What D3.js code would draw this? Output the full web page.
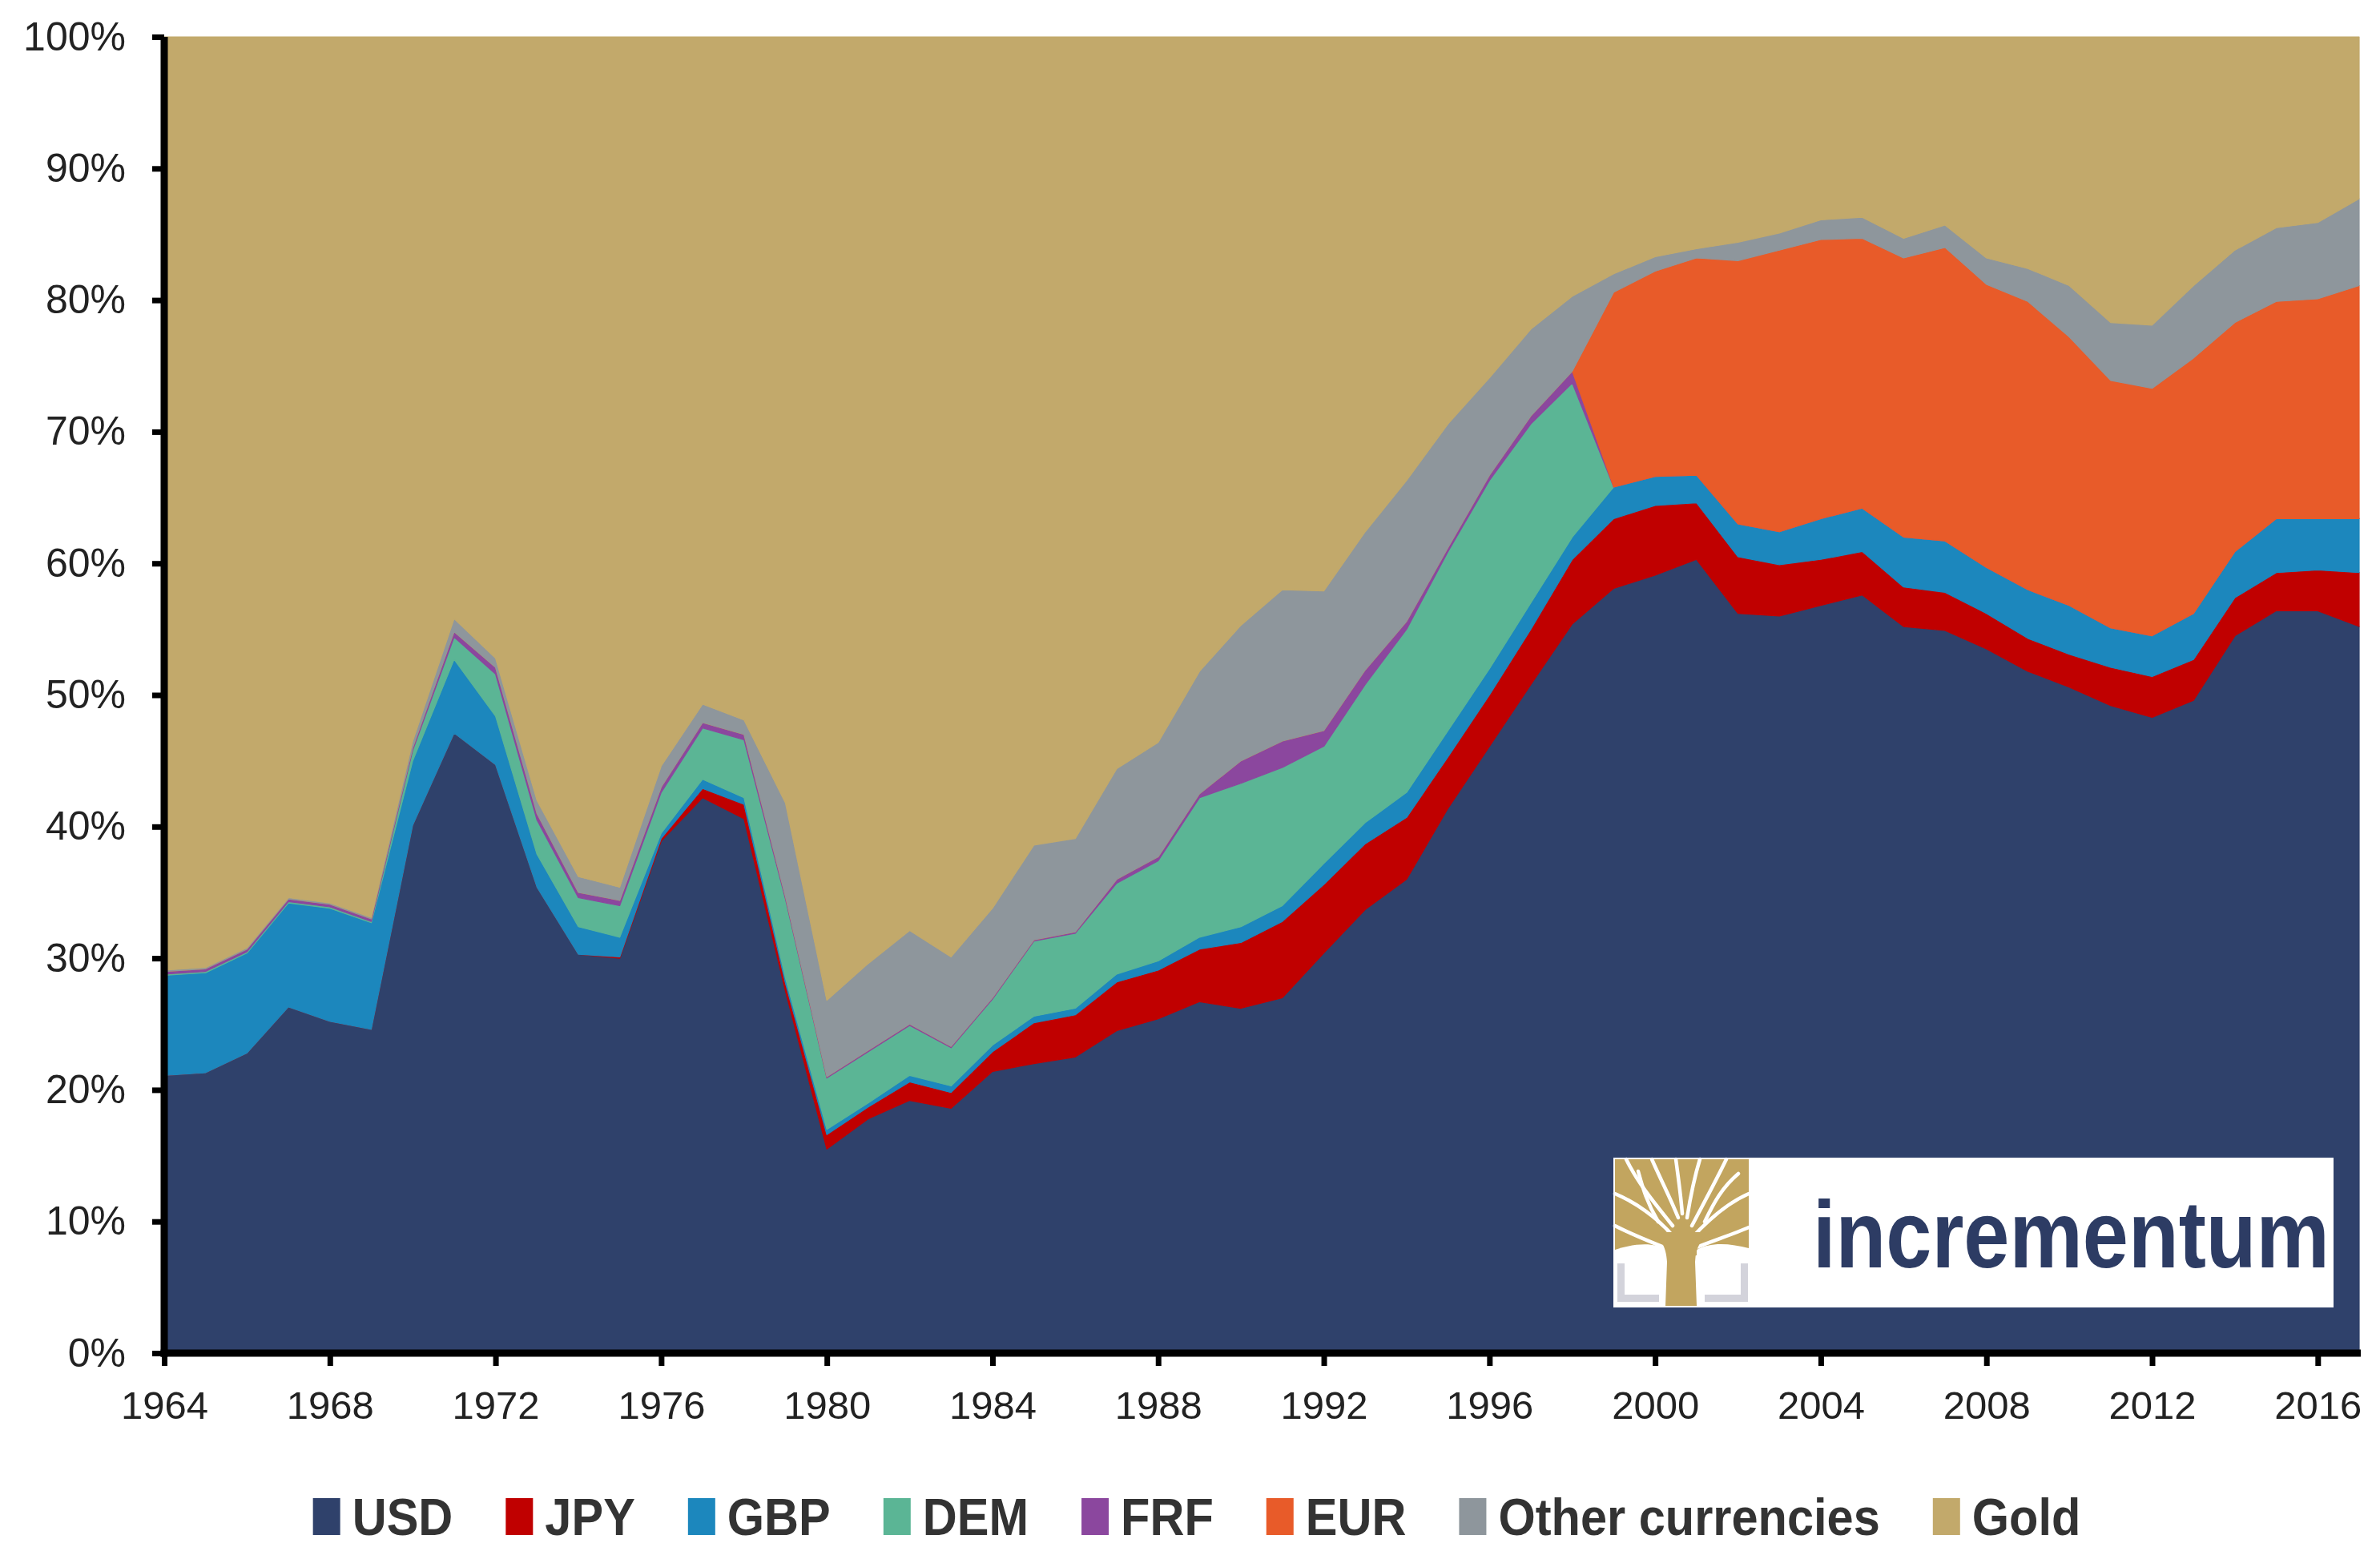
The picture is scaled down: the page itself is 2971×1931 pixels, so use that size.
<!DOCTYPE html>
<html>
<head>
<meta charset="utf-8">
<script src="https://cdn.jsdelivr.net/npm/d3@7/dist/d3.min.js"></script>
<style>
  html, body { margin: 0; padding: 0; background: #ffffff; }
  svg { display: block; }
</style>
</head>
<body>
<svg id="chart" width="2971" height="1931"></svg>
<script>
// ---------------- DATA (share of total reserves, %) ----------------
const years = [1964,1965,1966,1967,1968,1969,1970,1971,1972,1973,
               1974,1975,1976,1977,1978,1979,1980,1981,1982,1983,
               1984,1985,1986,1987,1988,1989,1990,1991,1992,1993,
               1994,1995,1996,1997,1998,1999,2000,2001,2002,2003,
               2004,2005,2006,2007,2008,2009,2010,2011,2012,2013,
               2014,2015,2016,2017];

const usd = [21.1,21.3,22.8,26.3,25.2,24.6,40.1,47.1,44.7,35.4,
             30.3,30.0,38.9,42.2,40.6,27.5,15.5,17.8,19.2,18.6,
             21.4,22.0,22.5,24.5,25.4,26.7,26.2,27.0,30.4,33.7,
             36.0,41.4,46.1,50.8,55.4,58.1,59.1,60.3,56.2,56.0,
             56.8,57.6,55.2,54.9,53.5,51.8,50.6,49.2,48.3,49.6,
             54.5,56.4,56.4,55.2];

const jpy = [0,0,0,0,0,0,0,0,0,0,
             0,0.1,0.2,0.7,1.1,0.6,1.1,0.9,1.4,1.2,
             1.5,3.1,3.2,3.7,3.7,4.0,5.0,5.8,5.2,5.0,
             4.7,3.9,3.9,4.2,4.9,5.3,5.3,4.3,4.3,3.9,
             3.5,3.3,3.0,2.9,2.7,2.5,2.5,2.9,3.1,3.1,
             2.9,2.9,3.1,4.1];

const gbp = [7.6,7.6,7.6,7.9,8.6,8.1,4.9,5.6,3.7,2.5,
             2.1,1.5,0.4,0.7,0.5,0.4,0.4,0.3,0.5,0.5,
             0.5,0.5,0.5,0.6,0.7,0.9,1.2,1.2,1.6,1.6,
             1.9,2.0,2.0,2.0,1.7,2.4,2.2,2.1,2.5,2.5,
             3.1,3.3,3.8,3.9,3.5,3.7,3.7,3.0,3.1,3.5,
             3.5,4.1,3.9,4.1];

const dem = [0.1,0.1,0.1,0.1,0.1,0.1,0.8,1.7,3.2,2.6,
             2.2,2.4,3.1,3.9,4.4,6.0,3.9,3.9,3.8,2.9,
             3.5,5.7,5.7,6.9,7.6,10.6,10.9,10.5,8.9,10.5,
             12.4,13.6,14.3,13.6,11.7,0,0,0,0,0,
             0,0,0,0,0,0,0,0,0,0,
             0,0,0,0];

const frf = [0.2,0.2,0.2,0.2,0.2,0.2,0.2,0.4,0.5,0.5,
             0.4,0.4,0.4,0.4,0.4,0.2,0.1,0.1,0.1,0.1,
             0.1,0.1,0.1,0.3,0.3,0.3,1.7,2.0,1.2,1.1,
             0.6,0.3,0.4,0.6,0.9,0,0,0,0,0,
             0,0,0,0,0,0,0,0,0,0,
             0,0,0,0];

const eur = [0,0,0,0,0,0,0,0,0,0,
             0,0,0,0,0,0,0,0,0,0,
             0,0,0,0,0,0,0,0,0,0,
             0,0,0,0,0,14.8,15.6,16.5,20.0,21.4,
             21.2,20.5,21.2,22.3,21.5,21.9,20.4,18.8,18.8,19.4,
             17.4,16.5,16.7,17.7];

const other = [0.1,0.1,0.1,0.1,0.1,0.1,0.5,1.0,0.7,1.0,
               1.2,1.0,1.6,1.4,1.1,7.1,5.8,6.6,7.1,6.8,
               6.8,7.2,7.1,8.4,8.7,9.3,10.3,11.5,10.6,10.5,
               10.7,9.4,7.4,6.6,5.7,1.4,1.1,0.7,1.4,1.3,
               1.5,1.6,1.5,1.7,2.0,2.5,3.9,4.4,4.8,5.5,
               5.5,5.6,5.8,6.6];

const gold = [70.9,70.7,69.2,65.4,65.8,66.9,53.5,44.2,47.2,58.0,
              63.8,64.6,55.4,50.7,51.9,58.2,73.2,70.4,67.9,69.9,
              66.2,61.4,60.9,55.6,53.6,48.2,44.7,42.0,42.1,37.6,
              33.7,29.4,25.9,22.2,19.7,18.0,16.7,16.1,15.6,14.9,
              13.9,13.7,15.3,14.3,16.8,17.6,18.9,21.7,21.9,18.9,
              16.2,14.5,14.1,12.3];

const seriesNames = ["USD","JPY","GBP","DEM","FRF","EUR","Other currencies","Gold"];
const seriesValues = [usd, jpy, gbp, dem, frf, eur, other, gold];
const seriesColors = ["#2f416b","#c00000","#1c87bd","#5bb595","#8b479e","#e85b29","#8e969c","#c2a96b"];

const yTicks = [0,10,20,30,40,50,60,70,80,90,100];
const xTicks = [1964,1968,1972,1976,1980,1984,1988,1992,1996,2000,2004,2008,2012,2016];

// ---------------- LAYOUT ----------------
const W = 2971, H = 1931;
const plot = { left: 205, right: 2945, top: 46, bottom: 1689 };

const svg = d3.select("#chart");
svg.append("rect").attr("width", W).attr("height", H).attr("fill", "#ffffff");

const x = d3.scaleLinear().domain([years[0], years[years.length - 1]]).range([plot.left, plot.right]);
const y = d3.scaleLinear().domain([0, 100]).range([plot.bottom, plot.top]);

const table = years.map((yr, i) => {
  const row = { year: yr };
  seriesNames.forEach((k, j) => row[k] = seriesValues[j][i]);
  return row;
});
const stacked = d3.stack().keys(seriesNames)(table);

const area = d3.area()
  .x(d => x(d.data.year))
  .y0(d => y(d[0]))
  .y1(d => y(Math.min(100, d[1])));

const gArea = svg.append("g");
gArea.selectAll("path")
  .data(stacked)
  .join("path")
  .attr("d", area)
  .attr("fill", (d, i) => seriesColors[i])
  .attr("stroke", (d, i) => seriesColors[i])
  .attr("stroke-width", 1.2)
  .attr("stroke-linejoin", "round");

// ---------------- LOGO ----------------
const logo = svg.append("g");
const box = { x: 2014, y: 1445, w: 899, h: 187 };
logo.append("rect").attr("x", box.x).attr("y", box.y).attr("width", box.w).attr("height", box.h).attr("fill", "#ffffff");

const goldC = "#c2a55f";
const tree = logo.append("g");
tree.append("rect").attr("x", 2016).attr("y", 1447).attr("width", 167).attr("height", 120).attr("fill", goldC);
const bracket = "#d3d3db";
tree.append("rect").attr("x", 2019).attr("y", 1577).attr("width", 9).attr("height", 48).attr("fill", bracket);
tree.append("rect").attr("x", 2019).attr("y", 1616).attr("width", 52).attr("height", 9).attr("fill", bracket);
tree.append("rect").attr("x", 2173).attr("y", 1577).attr("width", 9).attr("height", 48).attr("fill", bracket);
tree.append("rect").attr("x", 2128).attr("y", 1616).attr("width", 54).attr("height", 9).attr("fill", bracket);
const gaps = [
  "M2090,1545 C2070,1520 2040,1500 2016,1490",
  "M2088,1530 C2068,1505 2045,1478 2030,1447",
  "M2095,1520 C2085,1495 2072,1470 2062,1447",
  "M2100,1515 C2098,1490 2095,1470 2092,1447",
  "M2106,1520 C2110,1495 2115,1470 2122,1447",
  "M2112,1530 C2125,1505 2140,1478 2155,1447",
  "M2112,1545 C2135,1520 2160,1500 2183,1490",
  "M2085,1560 C2060,1550 2035,1540 2016,1530",
  "M2115,1558 C2140,1548 2165,1540 2183,1532",
  "M2070,1525 C2055,1500 2050,1480 2045,1462",
  "M2128,1525 C2140,1500 2150,1482 2170,1465"
];
tree.selectAll("path.gap").data(gaps).join("path")
  .attr("class", "gap").attr("d", d => d)
  .attr("fill", "none").attr("stroke", "#ffffff").attr("stroke-width", 4.5).attr("stroke-linecap", "round");
tree.append("path")
  .attr("d", "M2016,1567 L2016,1560 C2040,1552 2065,1550 2080,1560 L2080,1567 Z")
  .attr("fill", "#ffffff");
tree.append("path")
  .attr("d", "M2118,1567 L2118,1560 C2135,1550 2160,1552 2183,1558 L2183,1567 Z")
  .attr("fill", "#ffffff");
tree.append("path")
  .attr("d", "M2079,1630 L2081,1575 C2080,1555 2072,1545 2062,1538 L2135,1538 C2124,1546 2117,1556 2116,1575 L2118,1630 Z")
  .attr("fill", goldC);

// logo word: rendered at full size, then horizontally condensed with a transform
const logoText = logo.append("text")
  .attr("x", 0).attr("y", 0)
  .attr("font-family", "Liberation Sans, Arial, sans-serif")
  .attr("font-weight", "bold")
  .attr("font-size", 119)
  .attr("fill", "#2d3c64")
  .text("incrementum");
const natural = logoText.node().getComputedTextLength();
const sx = 645 / natural;
logoText.attr("transform", `translate(2263,1582) scale(${sx},1)`);

// ---------------- AXES ----------------
const fontFamily = "Liberation Sans, Arial, sans-serif";

const yAxis = d3.axisLeft(y)
  .tickValues(yTicks)
  .tickFormat(d => d + "%")
  .tickSize(15)
  .tickSizeOuter(0)
  .tickPadding(33);
const gy = svg.append("g").attr("transform", `translate(${plot.left},0)`).call(yAxis);

const xAxis = d3.axisBottom(x)
  .tickValues(xTicks)
  .tickFormat(d3.format("d"))
  .tickSize(16)
  .tickSizeOuter(0)
  .tickPadding(31);
const gx = svg.append("g").attr("transform", `translate(0,${plot.bottom})`).call(xAxis);

[gy, gx].forEach(g => {
  g.select(".domain").attr("stroke", "#000").attr("stroke-width", 9);
  g.selectAll(".tick line").attr("stroke", "#000").attr("stroke-width", 7);
  g.selectAll(".tick text")
    .attr("font-family", fontFamily)
    .attr("font-size", 50)
    .attr("fill", "#222222");
});
gx.selectAll(".tick text").attr("font-size", 49);
gx.select(".domain").attr("d", `M${plot.left - 4.5},0H${plot.right + 2}`);
gy.select(".domain").attr("d", `M0,${plot.bottom + 4.5}V${plot.top}`);

// ---------------- LEGEND ----------------
const legend = svg.append("g");
const legendCenter = 1494;
const legBaseline = 1916;
const sqW = 34, sqH = 46, sqGap = 15, itemGap = 66;
const items = legend.selectAll("g.item").data(seriesNames).join("g").attr("class", "item");
items.append("rect")
  .attr("y", legBaseline - sqH).attr("width", sqW).attr("height", sqH)
  .attr("fill", (d, i) => seriesColors[i]);
items.append("text")
  .attr("x", sqW + sqGap).attr("y", legBaseline)
  .attr("font-family", fontFamily)
  .attr("font-weight", "bold")
  .attr("font-size", 64)
  .attr("fill", "#333333")
  .text(d => d);
let cursor = 0;
const widths = [];
items.each(function() {
  const t = d3.select(this).select("text");
  const w = t.node().getComputedTextLength() * 0.93;
  t.attr("textLength", w).attr("lengthAdjust", "spacingAndGlyphs");
  widths.push(w);
});
const totalW = widths.reduce((a, w) => a + sqW + sqGap + w, 0) + itemGap * (widths.length - 1);
cursor = legendCenter - totalW / 2;
items.each(function(d, i) {
  d3.select(this).attr("transform", `translate(${cursor},0)`);
  cursor += sqW + sqGap + widths[i] + itemGap;
});
</script>
</body>
</html>
